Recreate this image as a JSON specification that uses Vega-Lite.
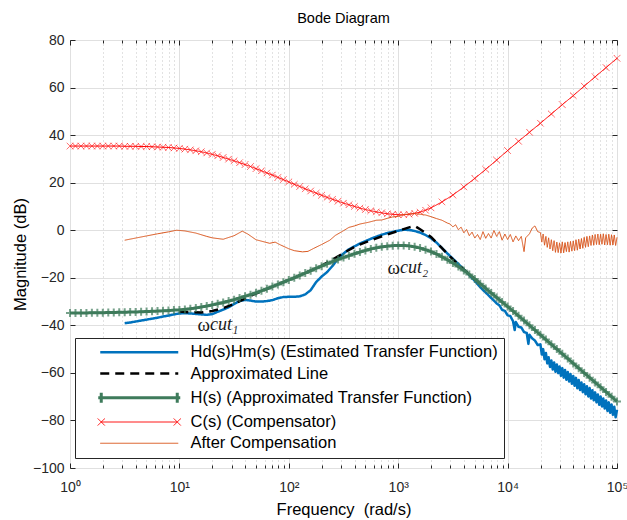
{
"$schema": "https://vega.github.io/schema/vega-lite/v6.json",
"width": 547, "height": 428,
"autosize": "none",
"padding": {"left": 70, "top": 40, "right": 10, "bottom": 52},
"background": "#ffffff",
"title": {"text": "Bode Diagram", "font": "Liberation Sans", "fontSize": 14.5, "fontWeight": "normal", "color": "#000000", "offset": 7, "anchor": "middle"},
"config": {
  "view": {"stroke": "#262626", "strokeWidth": 1},
  "axis": {"labelFont": "Liberation Sans", "labelFontSize": 14, "labelColor": "#262626", "titleFont": "Liberation Sans", "titleFontSize": 16.5, "titleFontWeight": "normal", "titleColor": "#000000", "tickColor": "#262626", "domain": false, "gridColor": "#e0e0e0", "labelFlush": false, "labelOverlap": false}
},
"data": {"values": [
{"s":"C","f":1,"db":35.4},{"s":"C","f":1.122,"db":35.4},{"s":"C","f":1.259,"db":35.4},{"s":"C","f":1.413,"db":35.4},{"s":"C","f":1.585,"db":35.4},{"s":"C","f":1.778,"db":35.4},{"s":"C","f":1.995,"db":35.4},{"s":"C","f":2.239,"db":35.4},{"s":"C","f":2.512,"db":35.4},{"s":"C","f":2.818,"db":35.4},
{"s":"C","f":3.162,"db":35.3},{"s":"C","f":3.548,"db":35.3},{"s":"C","f":3.981,"db":35.3},{"s":"C","f":4.467,"db":35.2},{"s":"C","f":5.012,"db":35.2},{"s":"C","f":5.623,"db":35.1},{"s":"C","f":6.31,"db":35.0},{"s":"C","f":7.079,"db":34.9},{"s":"C","f":7.943,"db":34.8},{"s":"C","f":8.913,"db":34.6},
{"s":"C","f":10,"db":34.4},{"s":"C","f":11.22,"db":34.1},{"s":"C","f":12.59,"db":33.8},{"s":"C","f":14.13,"db":33.4},{"s":"C","f":15.85,"db":33.0},{"s":"C","f":17.78,"db":32.5},{"s":"C","f":19.95,"db":31.9},{"s":"C","f":22.39,"db":31.3},{"s":"C","f":25.12,"db":30.6},{"s":"C","f":28.18,"db":29.9},
{"s":"C","f":31.62,"db":29.2},{"s":"C","f":35.48,"db":28.4},{"s":"C","f":39.81,"db":27.6},{"s":"C","f":44.67,"db":26.8},{"s":"C","f":50.12,"db":25.9},{"s":"C","f":56.23,"db":25.0},{"s":"C","f":63.1,"db":24.1},{"s":"C","f":70.79,"db":23.2},{"s":"C","f":79.43,"db":22.2},{"s":"C","f":89.13,"db":21.3},
{"s":"C","f":100,"db":20.3},{"s":"C","f":112.2,"db":19.3},{"s":"C","f":125.9,"db":18.4},{"s":"C","f":141.3,"db":17.4},{"s":"C","f":158.5,"db":16.5},{"s":"C","f":177.8,"db":15.6},{"s":"C","f":199.5,"db":14.7},{"s":"C","f":223.9,"db":13.8},{"s":"C","f":251.2,"db":13.0},{"s":"C","f":281.8,"db":12.2},
{"s":"C","f":316.2,"db":11.4},{"s":"C","f":354.8,"db":10.7},{"s":"C","f":398.1,"db":10.0},{"s":"C","f":446.7,"db":9.3},{"s":"C","f":501.2,"db":8.7},{"s":"C","f":562.3,"db":8.2},{"s":"C","f":631,"db":7.7},{"s":"C","f":707.9,"db":7.3},{"s":"C","f":794.3,"db":6.9},{"s":"C","f":891.3,"db":6.7},
{"s":"C","f":1000,"db":6.5},{"s":"C","f":1122,"db":6.5},{"s":"C","f":1259,"db":6.7},{"s":"C","f":1413,"db":7.1},{"s":"C","f":1585,"db":7.6},{"s":"C","f":1778,"db":8.4},{"s":"C","f":1995,"db":9.4},{"s":"C","f":2512,"db":11.9},{"s":"C","f":3162,"db":14.8},{"s":"C","f":3981,"db":18.2},
{"s":"C","f":5012,"db":21.8},{"s":"C","f":6310,"db":25.6},{"s":"C","f":7943,"db":29.5},{"s":"C","f":10000,"db":33.5},{"s":"C","f":12590,"db":37.4},{"s":"C","f":15850,"db":41.2},{"s":"C","f":19950,"db":45.0},{"s":"C","f":25120,"db":48.9},{"s":"C","f":31620,"db":52.8},{"s":"C","f":39810,"db":56.6},
{"s":"C","f":50120,"db":60.6},{"s":"C","f":63100,"db":64.5},{"s":"C","f":79430,"db":68.4},{"s":"C","f":100000,"db":72.3},

{"s":"H","f":1,"db":-34.8},{"s":"H","f":1.122,"db":-34.8},{"s":"H","f":1.259,"db":-34.8},{"s":"H","f":1.413,"db":-34.8},{"s":"H","f":1.585,"db":-34.7},{"s":"H","f":1.778,"db":-34.7},{"s":"H","f":1.995,"db":-34.7},{"s":"H","f":2.239,"db":-34.6},{"s":"H","f":2.512,"db":-34.6},{"s":"H","f":2.818,"db":-34.5},
{"s":"H","f":3.162,"db":-34.5},{"s":"H","f":3.548,"db":-34.4},{"s":"H","f":3.981,"db":-34.4},{"s":"H","f":4.467,"db":-34.3},{"s":"H","f":5.012,"db":-34.2},{"s":"H","f":5.623,"db":-34.1},{"s":"H","f":6.31,"db":-34.0},{"s":"H","f":7.079,"db":-33.9},{"s":"H","f":7.943,"db":-33.8},{"s":"H","f":8.913,"db":-33.6},
{"s":"H","f":10,"db":-33.5},{"s":"H","f":11.22,"db":-33.3},{"s":"H","f":12.59,"db":-33.0},{"s":"H","f":14.13,"db":-32.7},{"s":"H","f":15.85,"db":-32.3},{"s":"H","f":17.78,"db":-31.9},{"s":"H","f":19.95,"db":-31.4},{"s":"H","f":22.39,"db":-30.9},{"s":"H","f":25.12,"db":-30.4},{"s":"H","f":28.18,"db":-29.8},
{"s":"H","f":31.62,"db":-29.2},{"s":"H","f":35.48,"db":-28.5},{"s":"H","f":39.81,"db":-27.8},{"s":"H","f":44.67,"db":-27.1},{"s":"H","f":50.12,"db":-26.3},{"s":"H","f":56.23,"db":-25.5},{"s":"H","f":63.1,"db":-24.6},{"s":"H","f":70.79,"db":-23.7},{"s":"H","f":79.43,"db":-22.8},{"s":"H","f":89.13,"db":-21.9},
{"s":"H","f":100,"db":-20.9},{"s":"H","f":112.2,"db":-20.0},{"s":"H","f":125.9,"db":-19.0},{"s":"H","f":141.3,"db":-18.0},{"s":"H","f":158.5,"db":-17.0},{"s":"H","f":177.8,"db":-16.0},{"s":"H","f":199.5,"db":-15.1},{"s":"H","f":223.9,"db":-14.1},{"s":"H","f":251.2,"db":-13.2},{"s":"H","f":281.8,"db":-12.3},
{"s":"H","f":316.2,"db":-11.5},{"s":"H","f":354.8,"db":-10.7},{"s":"H","f":398.1,"db":-9.9},{"s":"H","f":446.7,"db":-9.2},{"s":"H","f":501.2,"db":-8.5},{"s":"H","f":562.3,"db":-7.9},{"s":"H","f":631,"db":-7.4},{"s":"H","f":707.9,"db":-7.0},{"s":"H","f":794.3,"db":-6.7},{"s":"H","f":891.3,"db":-6.5},
{"s":"H","f":1000,"db":-6.4},{"s":"H","f":1122,"db":-6.4},{"s":"H","f":1259,"db":-6.6},{"s":"H","f":1413,"db":-7.0},{"s":"H","f":1585,"db":-7.5},{"s":"H","f":1778,"db":-8.2},{"s":"H","f":1995,"db":-9.0},{"s":"H","f":2239,"db":-10.0},{"s":"H","f":2512,"db":-11.2},{"s":"H","f":2818,"db":-12.4},
{"s":"H","f":3162,"db":-13.8},{"s":"H","f":3548,"db":-15.3},{"s":"H","f":3981,"db":-16.9},{"s":"H","f":4467,"db":-18.6},{"s":"H","f":5012,"db":-20.5},{"s":"H","f":5623,"db":-22.5},{"s":"H","f":6310,"db":-24.5},{"s":"H","f":7079,"db":-26.4},{"s":"H","f":7943,"db":-28.3},{"s":"H","f":8913,"db":-30.2},
{"s":"H","f":10000,"db":-32.1},{"s":"H","f":11220,"db":-34.0},{"s":"H","f":12590,"db":-36.0},{"s":"H","f":14130,"db":-38.0},{"s":"H","f":15850,"db":-40.0},{"s":"H","f":17780,"db":-42.0},{"s":"H","f":19950,"db":-44.0},{"s":"H","f":22390,"db":-46.0},{"s":"H","f":25120,"db":-48.0},{"s":"H","f":28180,"db":-50.0},
{"s":"H","f":31620,"db":-52.0},{"s":"H","f":35480,"db":-54.0},{"s":"H","f":39810,"db":-56.0},{"s":"H","f":44670,"db":-58.0},{"s":"H","f":50120,"db":-60.0},{"s":"H","f":56230,"db":-62.0},{"s":"H","f":63100,"db":-64.0},{"s":"H","f":70790,"db":-66.0},{"s":"H","f":79430,"db":-68.0},{"s":"H","f":89130,"db":-70.0},
{"s":"H","f":100000,"db":-72.0},

{"s":"Hd","f":3.162,"db":-39.1},{"s":"Hd","f":3.548,"db":-38.8},{"s":"Hd","f":3.981,"db":-38.4},{"s":"Hd","f":4.467,"db":-38.0},{"s":"Hd","f":5.012,"db":-37.6},{"s":"Hd","f":5.623,"db":-37.2},{"s":"Hd","f":6.31,"db":-36.8},{"s":"Hd","f":7.079,"db":-36.3},{"s":"Hd","f":7.943,"db":-35.9},{"s":"Hd","f":8.913,"db":-35.4},
{"s":"Hd","f":10,"db":-35.0},{"s":"Hd","f":11.22,"db":-34.9},{"s":"Hd","f":12.59,"db":-35.0},{"s":"Hd","f":14.13,"db":-35.2},{"s":"Hd","f":15.85,"db":-35.4},{"s":"Hd","f":17.78,"db":-35.6},{"s":"Hd","f":19.95,"db":-35.3},{"s":"Hd","f":22.39,"db":-34.3},{"s":"Hd","f":25.12,"db":-33.4},{"s":"Hd","f":28.18,"db":-32.4},
{"s":"Hd","f":31.62,"db":-31.0},{"s":"Hd","f":35.48,"db":-29.8},{"s":"Hd","f":39.81,"db":-29.3},{"s":"Hd","f":44.67,"db":-29.6},{"s":"Hd","f":50.12,"db":-30.0},{"s":"Hd","f":56.23,"db":-30.0},{"s":"Hd","f":63.1,"db":-29.8},{"s":"Hd","f":70.79,"db":-29.4},{"s":"Hd","f":79.43,"db":-28.6},{"s":"Hd","f":89.13,"db":-28.1},
{"s":"Hd","f":100,"db":-28.0},{"s":"Hd","f":112.2,"db":-28.0},{"s":"Hd","f":125.9,"db":-27.8},{"s":"Hd","f":141.3,"db":-27.0},{"s":"Hd","f":158.5,"db":-25.2},{"s":"Hd","f":177.8,"db":-21.8},{"s":"Hd","f":199.5,"db":-19.5},{"s":"Hd","f":223.9,"db":-17.6},{"s":"Hd","f":251.2,"db":-15.0},{"s":"Hd","f":281.8,"db":-12.0},
{"s":"Hd","f":316.2,"db":-9.8},{"s":"Hd","f":354.8,"db":-8.0},{"s":"Hd","f":398.1,"db":-6.8},{"s":"Hd","f":446.7,"db":-5.6},{"s":"Hd","f":501.2,"db":-4.6},{"s":"Hd","f":562.3,"db":-3.6},{"s":"Hd","f":631,"db":-2.7},{"s":"Hd","f":707.9,"db":-1.9},{"s":"Hd","f":794.3,"db":-1.2},{"s":"Hd","f":891.3,"db":-0.7},
{"s":"Hd","f":1000,"db":-0.2},{"s":"Hd","f":1122,"db":0.2},{"s":"Hd","f":1259,"db":0.1},{"s":"Hd","f":1413,"db":-0.3},{"s":"Hd","f":1585,"db":-1.0},{"s":"Hd","f":1778,"db":-2.0},{"s":"Hd","f":1995,"db":-3.4},{"s":"Hd","f":2239,"db":-5.2},{"s":"Hd","f":2512,"db":-7.5},{"s":"Hd","f":2818,"db":-9.8},
{"s":"Hd","f":3162,"db":-12.0},{"s":"Hd","f":3548,"db":-14.2},{"s":"Hd","f":3981,"db":-16.5},{"s":"Hd","f":4467,"db":-18.9},{"s":"Hd","f":5012,"db":-21.3},{"s":"Hd","f":5623,"db":-24.0},{"s":"Hd","f":6310,"db":-26.2},{"s":"Hd","f":7079,"db":-28.5},{"s":"Hd","f":7499,"db":-29.6},{"s":"Hd","f":7943,"db":-30.8},
{"s":"Hd","f":8414,"db":-31.6},{"s":"Hd","f":8913,"db":-33.5},{"s":"Hd","f":9441,"db":-33.9},{"s":"Hd","f":10000,"db":-35.8},{"s":"Hd","f":10590,"db":-36.1},{"s":"Hd","f":11220,"db":-38.3},{"s":"Hd","f":11610,"db":-42.0},{"s":"Hd","f":11890,"db":-38.6},{"s":"Hd","f":12590,"db":-40.6},{"s":"Hd","f":13340,"db":-40.9},
{"s":"Hd","f":14130,"db":-42.8},{"s":"Hd","f":14960,"db":-43.2},{"s":"Hd","f":15490,"db":-47.8},{"s":"Hd","f":15850,"db":-44.0},{"s":"Hd","f":16790,"db":-45.5},{"s":"Hd","f":17780,"db":-46.4},{"s":"Hd","f":18840,"db":-48.3},
{"s":"Hd","f":19950,"db":-48.0},{"s":"Hd","f":20540,"db":-52.3},{"s":"Hd","f":21130,"db":-50.0},{"s":"Hd","f":21760,"db":-54.3},{"s":"Hd","f":22390,"db":-51.6},{"s":"Hd","f":23040,"db":-56.0},{"s":"Hd","f":23710,"db":-53.4},{"s":"Hd","f":24410,"db":-57.5},{"s":"Hd","f":25120,"db":-54.8},{"s":"Hd","f":25860,"db":-58.6},
{"s":"Hd","f":26610,"db":-55.6},{"s":"Hd","f":27380,"db":-59.5},{"s":"Hd","f":28180,"db":-56.5},{"s":"Hd","f":29000,"db":-60.1},{"s":"Hd","f":29850,"db":-57.3},{"s":"Hd","f":30730,"db":-61.2},{"s":"Hd","f":31620,"db":-58.0},{"s":"Hd","f":32550,"db":-62.0},{"s":"Hd","f":33500,"db":-58.8},{"s":"Hd","f":34470,"db":-62.9},
{"s":"Hd","f":35480,"db":-59.6},{"s":"Hd","f":36520,"db":-63.6},{"s":"Hd","f":37580,"db":-60.5},{"s":"Hd","f":38680,"db":-64.6},{"s":"Hd","f":39810,"db":-61.3},{"s":"Hd","f":40970,"db":-65.4},{"s":"Hd","f":42170,"db":-62.1},{"s":"Hd","f":43400,"db":-66.5},{"s":"Hd","f":44670,"db":-63.0},{"s":"Hd","f":45970,"db":-67.2},
{"s":"Hd","f":47320,"db":-64.0},{"s":"Hd","f":48700,"db":-68.1},{"s":"Hd","f":50120,"db":-64.8},{"s":"Hd","f":51580,"db":-69.0},{"s":"Hd","f":53090,"db":-65.6},{"s":"Hd","f":54640,"db":-69.9},{"s":"Hd","f":56230,"db":-66.4},{"s":"Hd","f":57880,"db":-70.8},{"s":"Hd","f":59570,"db":-67.3},{"s":"Hd","f":61310,"db":-71.5},
{"s":"Hd","f":63100,"db":-68.2},{"s":"Hd","f":64940,"db":-72.4},{"s":"Hd","f":66830,"db":-69.1},{"s":"Hd","f":68790,"db":-73.4},{"s":"Hd","f":70790,"db":-69.9},{"s":"Hd","f":72870,"db":-74.1},{"s":"Hd","f":74990,"db":-70.8},{"s":"Hd","f":77180,"db":-75.0},{"s":"Hd","f":79430,"db":-71.6},{"s":"Hd","f":81760,"db":-76.0},
{"s":"Hd","f":84140,"db":-72.4},{"s":"Hd","f":86600,"db":-76.8},{"s":"Hd","f":89130,"db":-73.3},{"s":"Hd","f":91730,"db":-77.6},{"s":"Hd","f":94410,"db":-74.2},{"s":"Hd","f":97170,"db":-78.7},{"s":"Hd","f":100000,"db":-75.5},

{"s":"approx","f":10,"db":-34.2},{"s":"approx","f":12.59,"db":-34.5},{"s":"approx","f":15.85,"db":-34.6},{"s":"approx","f":19.95,"db":-34.0},{"s":"approx","f":25.12,"db":-32.8},{"s":"approx","f":31.62,"db":-31.0},{"s":"approx","f":39.81,"db":-28.8},{"s":"approx","f":50.12,"db":-26.6},{"s":"approx","f":63.1,"db":-24.7},{"s":"approx","f":79.43,"db":-22.8},
{"s":"approx","f":100,"db":-20.9},{"s":"approx","f":125.9,"db":-19.0},{"s":"approx","f":158.5,"db":-17.0},{"s":"approx","f":199.5,"db":-14.9},{"s":"approx","f":251.2,"db":-12.4},{"s":"approx","f":316.2,"db":-9.6},{"s":"approx","f":398.1,"db":-7.0},{"s":"approx","f":501.2,"db":-5.1},{"s":"approx","f":631,"db":-3.4},{"s":"approx","f":794.3,"db":-1.8},
{"s":"approx","f":1000,"db":-0.3},{"s":"approx","f":1259,"db":1.2},{"s":"approx","f":1413,"db":1.8},{"s":"approx","f":1585,"db":0.4},{"s":"approx","f":1995,"db":-2.8},{"s":"approx","f":2512,"db":-7.5},{"s":"approx","f":3162,"db":-12.3},{"s":"approx","f":3981,"db":-16.6},{"s":"approx","f":5012,"db":-20.5},{"s":"approx","f":6310,"db":-24.3},

{"s":"after","f":3.162,"db":-4.2},{"s":"after","f":3.981,"db":-3.3},{"s":"after","f":5.012,"db":-2.4},{"s":"after","f":6.31,"db":-1.5},{"s":"after","f":7.943,"db":-0.7},{"s":"after","f":9.441,"db":0.0},{"s":"after","f":11.22,"db":-0.3},{"s":"after","f":14.13,"db":-1.2},{"s":"after","f":17.78,"db":-2.6},{"s":"after","f":19.95,"db":-3.2},
{"s":"after","f":25.12,"db":-3.8},{"s":"after","f":31.62,"db":-2.3},{"s":"after","f":37.58,"db":-0.4},{"s":"after","f":42.17,"db":-1.6},{"s":"after","f":50.12,"db":-4.0},{"s":"after","f":59.57,"db":-4.9},{"s":"after","f":66.83,"db":-5.5},{"s":"after","f":74.99,"db":-5.0},{"s":"after","f":84.14,"db":-6.2},{"s":"after","f":100,"db":-7.8},
{"s":"after","f":112.2,"db":-8.6},{"s":"after","f":133.4,"db":-9.1},{"s":"after","f":149.6,"db":-8.9},{"s":"after","f":167.9,"db":-7.7},{"s":"after","f":199.5,"db":-6.0},{"s":"after","f":237.1,"db":-4.2},{"s":"after","f":266.1,"db":-2.2},{"s":"after","f":316.2,"db":-0.2},{"s":"after","f":354.8,"db":1.2},{"s":"after","f":398.1,"db":1.8},
{"s":"after","f":446.7,"db":2.6},{"s":"after","f":530.9,"db":3.3},{"s":"after","f":631,"db":4.2},{"s":"after","f":707.9,"db":4.3},{"s":"after","f":794.3,"db":5.0},{"s":"after","f":891.3,"db":5.6},{"s":"after","f":1000,"db":5.8},{"s":"after","f":1122,"db":6.6},{"s":"after","f":1259,"db":6.8},{"s":"after","f":1413,"db":7.0},
{"s":"after","f":1585,"db":6.7},{"s":"after","f":1778,"db":6.4},{"s":"after","f":1995,"db":5.7},{"s":"after","f":2239,"db":4.9},{"s":"after","f":2512,"db":4.2},{"s":"after","f":2818,"db":3.0},{"s":"after","f":2985,"db":2.6},{"s":"after","f":3162,"db":1.4},{"s":"after","f":3350,"db":2.3},{"s":"after","f":3548,"db":0.2},
{"s":"after","f":3758,"db":1.3},{"s":"after","f":3981,"db":-1.1},{"s":"after","f":4217,"db":0.3},{"s":"after","f":4467,"db":-2.3},{"s":"after","f":4732,"db":-0.8},{"s":"after","f":5012,"db":-3.3},{"s":"after","f":5309,"db":-1.8},{"s":"after","f":5623,"db":-3.9},{"s":"after","f":5957,"db":-0.6},{"s":"after","f":6310,"db":-3.4},
{"s":"after","f":6683,"db":-1.4},{"s":"after","f":7079,"db":-3.3},{"s":"after","f":7499,"db":-0.1},{"s":"after","f":7943,"db":-2.6},{"s":"after","f":8414,"db":-0.6},{"s":"after","f":8913,"db":-4.2},{"s":"after","f":9441,"db":-1.6},{"s":"after","f":10000,"db":-3.9},{"s":"after","f":10590,"db":-1.8},{"s":"after","f":11220,"db":-4.9},
{"s":"after","f":11890,"db":-2.4},{"s":"after","f":12590,"db":-4.4},{"s":"after","f":13340,"db":-2.6},{"s":"after","f":14130,"db":-9.0},{"s":"after","f":14620,"db":-3.2},{"s":"after","f":15850,"db":-1.5},{"s":"after","f":16790,"db":0.9},{"s":"after","f":17780,"db":1.8},{"s":"after","f":18840,"db":-0.6},
{"s":"after","f":19950,"db":-1.0},{"s":"after","f":20540,"db":-5.0},{"s":"after","f":21130,"db":-1.6},{"s":"after","f":21760,"db":-6.3},{"s":"after","f":22390,"db":-2.6},{"s":"after","f":23040,"db":-7.2},{"s":"after","f":23710,"db":-3.2},{"s":"after","f":24410,"db":-7.9},{"s":"after","f":25120,"db":-4.0},{"s":"after","f":25860,"db":-8.6},
{"s":"after","f":26610,"db":-4.4},{"s":"after","f":27380,"db":-9.3},{"s":"after","f":28180,"db":-5.0},{"s":"after","f":29000,"db":-9.4},{"s":"after","f":29850,"db":-5.3},{"s":"after","f":30730,"db":-9.6},{"s":"after","f":31620,"db":-4.9},{"s":"after","f":32550,"db":-9.5},{"s":"after","f":33500,"db":-5.2},{"s":"after","f":34470,"db":-9.0},
{"s":"after","f":35480,"db":-4.9},{"s":"after","f":36520,"db":-9.2},{"s":"after","f":37580,"db":-4.7},{"s":"after","f":38680,"db":-8.8},{"s":"after","f":39810,"db":-4.5},{"s":"after","f":40970,"db":-8.6},{"s":"after","f":42170,"db":-4.0},{"s":"after","f":43400,"db":-8.4},{"s":"after","f":44670,"db":-3.8},{"s":"after","f":45970,"db":-7.9},
{"s":"after","f":47320,"db":-3.5},{"s":"after","f":48700,"db":-7.6},{"s":"after","f":50120,"db":-3.0},{"s":"after","f":51580,"db":-7.2},{"s":"after","f":53090,"db":-2.6},{"s":"after","f":54640,"db":-6.9},{"s":"after","f":56230,"db":-2.4},{"s":"after","f":57880,"db":-6.4},{"s":"after","f":59570,"db":-2.0},{"s":"after","f":61310,"db":-6.3},
{"s":"after","f":63100,"db":-1.8},{"s":"after","f":64940,"db":-6.0},{"s":"after","f":66830,"db":-1.6},{"s":"after","f":68790,"db":-6.1},{"s":"after","f":70790,"db":-1.7},{"s":"after","f":72870,"db":-5.9},{"s":"after","f":74990,"db":-1.5},{"s":"after","f":77180,"db":-6.2},{"s":"after","f":79430,"db":-1.8},{"s":"after","f":81760,"db":-6.1},
{"s":"after","f":84140,"db":-1.7},{"s":"after","f":86600,"db":-6.3},{"s":"after","f":89130,"db":-1.9},{"s":"after","f":91730,"db":-6.2},{"s":"after","f":94410,"db":-2.0},{"s":"after","f":97170,"db":-6.4},{"s":"after","f":100000,"db":-3.0}
]},
"encoding": {
  "x": {"field": "f", "type": "quantitative", "scale": {"type": "log", "domain": [1, 100000], "nice": false}, "axis": null},
  "y": {"field": "db", "type": "quantitative", "scale": {"domain": [-100, 80], "nice": false, "zero": false}, "axis": null}
},
"layer": [
  {
    "encoding": {
      "color": {"field": "s", "type": "nominal",
        "scale": {"domain": ["Hd", "approx", "H", "C", "after"], "range": ["#0072BD", "#000000", "#3E7B5B", "#FF0000", "#D95319"]},
        "legend": {
          "title": null, "orient": "none", "legendX": 5, "legendY": 298, "direction": "vertical",
          "fillColor": "#ffffff", "strokeColor": "#262626", "padding": 6,
          "labelFont": "Liberation Sans", "labelFontSize": 16.5, "labelColor": "#000000", "labelLimit": 500,
          "labelOffset": 43, "symbolOffset": 50, "symbolSize": 100, "symbolType": "M-7.8,0H7.8", "rowPadding": 4.25,
          "labelExpr": "datum.value === 'Hd' ? 'Hd(s)Hm(s) (Estimated Transfer Function)' : datum.value === 'approx' ? 'Approximated Line' : datum.value === 'H' ? 'H(s) (Approximated Transfer Function)' : datum.value === 'C' ? 'C(s) (Compensator)' : 'After Compensation'",
          "encode": {"symbols": {"update": {"shape": [
            {"test": "datum.value === 'H'", "value": "M-8.2,0H8.2M-7.6,-1V1M7.6,-1V1"},
            {"test": "datum.value === 'C'", "value": "M-7.6,0H7.6M-8.3,-0.7L-6.9,0.7M-8.3,0.7L-6.9,-0.7M6.9,-0.7L8.3,0.7M6.9,0.7L8.3,-0.7"},
            {"value": "M-7.8,0H7.8"}
          ]}}}
        }},
      "strokeWidth": {"field": "s", "type": "nominal",
        "scale": {"type": "ordinal", "domain": ["Hd", "approx", "H", "C", "after"], "range": [2.5, 2.5, 3, 1, 1]},
        "legend": {"title": null}},
      "strokeDash": {"field": "s", "type": "nominal",
        "scale": {"domain": ["Hd", "approx", "H", "C", "after"], "range": [[1, 0], [9, 6], [1, 0], [1, 0], [1, 0]]},
        "legend": {"title": null}}
    },
    "layer": [
      {"transform": [{"filter": "datum.s === 'Hd'"}],
       "mark": {"type": "line", "strokeJoin": "round"},
       "encoding": {
         "x": {"field": "f", "type": "quantitative", "scale": {"type": "log", "domain": [1, 100000], "nice": false},
           "axis": {"orient": "bottom", "values": [1, 10, 100, 1000, 10000, 100000],
             "labelExpr": "'10' + (datum.value == 1 ? '⁰' : datum.value == 10 ? '¹' : datum.value == 100 ? '²' : datum.value == 1000 ? '³' : datum.value == 10000 ? '⁴' : '⁵')",
             "title": "Frequency\u00a0 (rad/s)", "titleY": 41, "titleBaseline": "middle",
             "grid": true, "gridColor": "#e0e0e0", "tickSize": -5, "labelPadding": 17}},
         "y": {"field": "db", "type": "quantitative", "scale": {"domain": [-100, 80], "nice": false, "zero": false},
           "axis": {"orient": "left", "values": [-100, -80, -60, -40, -20, 0, 20, 40, 60, 80],
             "title": "Magnitude (dB)", "titleX": -50, "titleBaseline": "middle",
             "grid": true, "gridColor": "#e0e0e0", "tickSize": -5, "labelPadding": 11}}
       }},
      {"transform": [{"filter": "datum.s === 'approx'"}],
       "mark": {"type": "line"},
       "encoding": {
         "x": {"field": "f", "type": "quantitative", "scale": {"type": "log", "domain": [1, 100000], "nice": false},
           "axis": {"orient": "bottom", "values": [2,3,4,5,6,7,8,9,20,30,40,50,60,70,80,90,200,300,400,500,600,700,800,900,2000,3000,4000,5000,6000,7000,8000,9000,20000,30000,40000,50000,60000,70000,80000,90000],
             "labels": false, "title": null, "grid": true, "gridColor": "#c4c4c4", "gridDash": [1, 3], "tickSize": -3}},
         "y": {"field": "db", "type": "quantitative", "scale": {"domain": [-100, 80], "nice": false, "zero": false},
           "axis": {"orient": "right", "values": [-100, -80, -60, -40, -20, 0, 20, 40, 60, 80],
             "labels": false, "title": null, "grid": false, "tickSize": -5}}
       }},
      {"transform": [{"filter": "datum.s === 'H'"}],
       "mark": {"type": "line"},
       "encoding": {
         "x": {"field": "f", "type": "quantitative", "scale": {"type": "log", "domain": [1, 100000], "nice": false},
           "axis": {"orient": "top", "values": [1, 10, 100, 1000, 10000, 100000], "labels": false, "title": null, "grid": false, "tickSize": -5}}
       }},
      {"transform": [{"filter": "datum.s === 'H'"}],
       "mark": {"type": "point", "shape": "M-1,0H1M0,-1V1", "filled": false, "size": 64},
       "encoding": {
         "x": {"field": "f", "type": "quantitative", "scale": {"type": "log", "domain": [1, 100000], "nice": false},
           "axis": {"orient": "top", "values": [2,3,4,5,6,7,8,9,20,30,40,50,60,70,80,90,200,300,400,500,600,700,800,900,2000,3000,4000,5000,6000,7000,8000,9000,20000,30000,40000,50000,60000,70000,80000,90000],
             "labels": false, "title": null, "grid": false, "tickSize": -3}},
         "color": {"value": "#3E7B5B"},
         "strokeWidth": {"value": 2},
         "strokeDash": {"value": [1, 0]}
       }},
      {"transform": [{"filter": "datum.s === 'C'"}],
       "mark": {"type": "line"}},
      {"transform": [{"filter": "datum.s === 'C'"}],
       "mark": {"type": "point", "shape": "M-1,-1L1,1M-1,1L1,-1", "filled": false, "size": 42},
       "encoding": {
         "color": {"value": "#FF0000"},
         "strokeWidth": {"value": 1},
         "strokeDash": {"value": [1, 0]}
       }},
      {"transform": [{"filter": "datum.s === 'after'"}],
       "mark": {"type": "line", "strokeJoin": "round"}}
    ]
  },
  {"data": {"values": [{"f": 19.05, "db": -39.8, "w": "ω", "t": "cut₁"}, {"f": 1040, "db": -15.9, "w": "ω", "t": "cut₂"}]},
   "mark": {"type": "text", "align": "right", "baseline": "middle", "font": "Liberation Serif", "fontSize": 19, "color": "#1a1a1a"},
   "encoding": {"text": {"field": "w"}}},
  {"data": {"values": [{"f": 19.05, "db": -39.8, "w": "ω", "t": "cut₁"}, {"f": 1040, "db": -15.9, "w": "ω", "t": "cut₂"}]},
   "mark": {"type": "text", "align": "left", "baseline": "middle", "font": "Liberation Serif", "fontSize": 18, "fontStyle": "italic", "color": "#1a1a1a"},
   "encoding": {"text": {"field": "t"}}}
]
}
